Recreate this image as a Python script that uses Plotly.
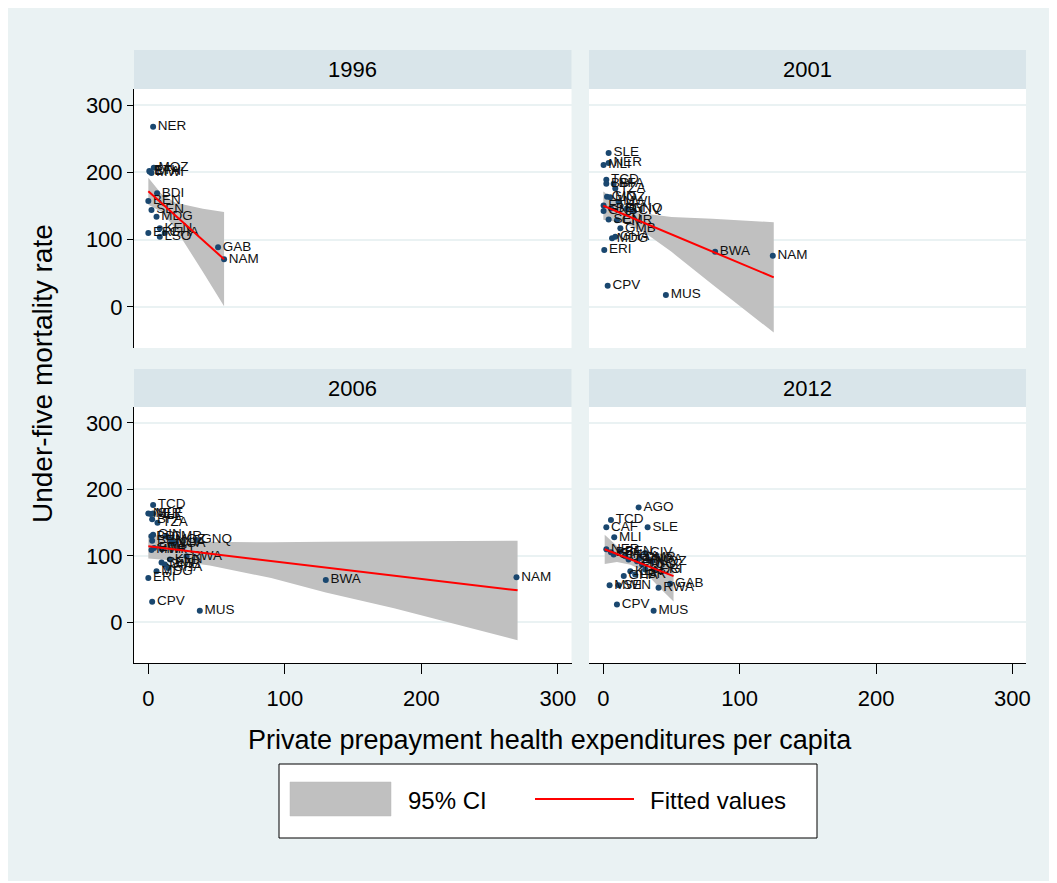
import plotly.graph_objects as go

# ---------------- data ----------------
years = ["1996", "2001", "2006", "2012"]

c96 = ["NER", "MOZ", "BFA", "MWI", "ETH", "BDI", "BEN", "SEN", "MDG", "ERI", "KEN", "GHA", "LSO", "GAB", "NAM"]
x96 = [3.5, 4.0, 1.1, 2.3, 0.7, 6.4, 0.0, 2.3, 6.0, 0.0, 8.4, 12.0, 8.4, 51.1, 55.5]
y96 = [268, 207, 201, 199, 202, 169, 157.5, 144, 134, 110, 117, 110, 104.5, 88.7, 71]

c01 = ["SLE", "NER", "MLI", "TCD", "BDI", "BFA", "TZA", "GIN", "MOZ", "MWI", "ETH", "BEN", "GNB", "GNQ",
       "CIV", "SEN", "CMR", "GMB", "MDG", "GHA", "ERI", "CPV", "MUS", "BWA", "NAM"]
x01 = [3.9, 3.9, 0.2, 2.2, 2.2, 7.6, 8.8, 2.7, 5.1, 11.2, 0.2, 5.6, 0.2, 17.4,
       22.2, 3.9, 10.0, 12.5, 6.4, 8.8, 0.7, 3.2, 45.9, 82.0, 124.3]
y01 = [229, 214, 211, 189, 183, 183, 176, 164, 163, 156, 151, 146.5, 142.6, 146.5,
       143, 130, 129, 117, 102, 104.5, 84.7, 31.7, 17.8, 82, 76]

c06 = ["TCD", "NER", "MLI", "SLE", "BFA", "TZA", "GIN", "BDI", "BEN", "CMR", "MOZ", "NGA", "CIV", "GNQ",
       "MWI", "ETH", "MRT", "RWA", "SEN", "GMB", "KEN", "GHA", "MDG", "ERI", "CPV", "MUS", "BWA", "NAM"]
x06 = [3.5, 0.0, 1.8, 3.5, 2.8, 6.7, 3.5, 2.3, 2.8, 13.3, 16.5, 17.0, 18.9, 35.3,
       2.3, 4.2, 9.9, 28.0, 9.7, 12.1, 15.8, 14.5, 6.0, 0.0, 2.8, 37.7, 130.0, 269.7]
y06 = [176.6, 164, 163, 164, 155, 150, 132, 129.5, 123, 129.5, 125, 119, 120, 124,
       109, 112, 110, 99.5, 90, 87, 94.5, 82, 77, 67, 31, 17.5, 63.7, 68]

c12 = ["AGO", "TCD", "CAF", "SLE", "MLI", "NER", "BFA", "GIN", "BEN", "CIV", "CMR", "NGA", "TZA", "BDI",
       "TGO", "MOZ", "UGA", "KEN", "COG", "ERI", "GHA", "LBR", "MWI", "SEN", "RWA", "GAB", "CPV", "MUS"]
x12 = [25.9, 5.6, 2.2, 32.5, 8.0, 2.2, 5.6, 7.6, 12.5, 30.8, 27.1, 33.2, 18.5, 24.7,
       28.4, 35.7, 16.0, 19.8, 30.8, 38.0, 15.0, 23.4, 4.6, 11.2, 40.5, 49.0, 10.0, 36.9]
y12 = [173, 154, 143, 143, 128, 110, 105.5, 102, 107, 104.5, 97, 94.5, 94.5, 92,
       87, 92, 99.5, 77, 79.5, 79.5, 70, 72, 56, 56, 52, 58, 27, 17.5]

# fitted values and 95% CI bounds
fx96 = [0, 10, 20, 30, 40, 55.5]
fit96 = [172, 153.8, 135.6, 117.4, 99.2, 71]
lo96 = [152, 141, 116, 85, 52, 1]
hi96 = [192, 167, 155, 150, 146, 141]

fx01 = [0, 15, 30, 50, 80, 100, 125]
fit01 = [150.5, 137.7, 124.9, 107.9, 82.3, 65.3, 44]
lo01 = [129.5, 124.7, 110.9, 81.9, 33.3, 1.3, -38]
hi01 = [171.5, 150.7, 138.9, 133.9, 131.3, 129.3, 126]

fx06 = [0, 20, 45, 90, 130, 180, 230, 270.5]
fit06 = [114.5, 109.6, 103.5, 92.5, 82.7, 70.5, 58.2, 48.3]
lo06 = [96, 92.6, 85.6, 66.8, 45, 21.3, -5.2, -26.7]
hi06 = [133, 126.6, 121.4, 120.5, 121.5, 122, 122.5, 123]

fx12 = [1, 10, 20, 30, 40, 51.5]
fit12 = [110, 102.8, 94.8, 86.8, 78.8, 69.6]
lo12 = [88, 90.8, 86.8, 76.8, 54.8, 31.6]
hi12 = [132, 114.8, 102.8, 96.8, 102.8, 107.6]

xticks = [0, 100, 200, 300]
yticks = [0, 100, 200, 300]

# ---------------- layout geometry (page pixels; page body margin is 8px) ----------------
W, H = 1041, 873
L, R, T, B = 126, 23, 42, 218
PW, PH = W - L - R, H - T - B


def px(p):  # page x pixel -> paper
    return (p - 134) / PW


def py(p):  # page y pixel -> paper
    return (663 - p) / PH


FONT = "Liberation Sans, Arial, sans-serif"
NAVY = "#1a476f"
BG = "#eaf2f3"
STRIP = "#d9e5ea"
GRID = "#eaf2f3"

panels = [
    (c96, x96, y96, fx96, fit96, lo96, hi96, "x", "y"),
    (c01, x01, y01, fx01, fit01, lo01, hi01, "x2", "y2"),
    (c06, x06, y06, fx06, fit06, lo06, hi06, "x3", "y3"),
    (c12, x12, y12, fx12, fit12, lo12, hi12, "x4", "y4"),
]

fig = go.Figure()
for (cc, xx, yy, fx, fit, lo, hi, xa, ya) in panels:
    fig.add_trace(go.Scatter(
        x=fx + fx[::-1], y=hi + lo[::-1], fill="toself", fillcolor="#c0c0c0",
        line=dict(width=0), mode="lines", xaxis=xa, yaxis=ya, hoverinfo="skip"))
    fig.add_trace(go.Scatter(
        x=xx, y=yy, mode="markers+text", text=cc, textposition="middle right",
        textfont=dict(family=FONT, size=13.5, color="#111111"),
        marker=dict(color=NAVY, size=6), xaxis=xa, yaxis=ya))
    fig.add_trace(go.Scatter(
        x=fx, y=fit, mode="lines", line=dict(color="red", width=2),
        xaxis=xa, yaxis=ya))

xrng = [-10.5, 310]
yrng = [-61, 324]
dom_left = [px(134), px(571.5)]
dom_right = [px(589), px(1026)]
dom_top = [py(348), py(89)]
dom_bot = [py(663), py(407)]

tickfont = dict(family=FONT, size=22, color="black")


def xax(domain, anchor, bottom):
    d = dict(domain=domain, anchor=anchor, range=xrng, showgrid=False, zeroline=False,
             fixedrange=True)
    if bottom:
        d.update(showline=True, linecolor="black", linewidth=1, ticks="outside", ticklen=10,
                 tickcolor="black", tickvals=xticks, tickfont=tickfont, ticklabelstandoff=6)
    else:
        d.update(showline=False, showticklabels=False, ticks="")
    return d


def yax(domain, anchor, left):
    d = dict(domain=domain, anchor=anchor, range=yrng, showgrid=True, gridcolor=GRID,
             gridwidth=2, zeroline=False, tickvals=yticks, fixedrange=True)
    if left:
        d.update(showline=True, linecolor="black", linewidth=1, ticks="outside", ticklen=6,
                 tickcolor="black", tickfont=tickfont)
    else:
        d.update(showline=False, showticklabels=False, ticks="")
    return d


shapes = []
annotations = []
# strips
strips = [(134, 571.5, 50, 89), (589, 1026, 50, 89), (134, 571.5, 369, 407), (589, 1026, 369, 407)]
for (x0, x1, y0, y1), yr in zip(strips, years):
    shapes.append(dict(type="rect", xref="paper", yref="paper", x0=px(x0), x1=px(x1),
                       y0=py(y1), y1=py(y0), fillcolor=STRIP, line=dict(width=0), layer="below"))
    annotations.append(dict(text=yr, xref="paper", yref="paper", x=px((x0 + x1) / 2),
                            y=py((y0 + y1) / 2), showarrow=False, xanchor="center", yanchor="middle",
                            font=dict(family=FONT, size=22, color="black")))

# legend box (drawn)
shapes.append(dict(type="rect", xref="paper", yref="paper", x0=px(279), x1=px(817),
                   y0=py(838), y1=py(764), fillcolor="white", line=dict(color="black", width=1)))
shapes.append(dict(type="rect", xref="paper", yref="paper", x0=px(290), x1=px(391),
                   y0=py(816), y1=py(782), fillcolor="#c0c0c0", line=dict(color="#b8b8b8", width=0.5)))
shapes.append(dict(type="line", xref="paper", yref="paper", x0=px(535), x1=px(634),
                   y0=py(799), y1=py(799), line=dict(color="red", width=2)))
annotations.append(dict(text="95% CI", xref="paper", yref="paper", x=px(406), y=py(800),
                        xanchor="left", yanchor="middle", showarrow=False,
                        font=dict(family=FONT, size=24, color="black")))
annotations.append(dict(text="Fitted values", xref="paper", yref="paper", x=px(648), y=py(800),
                        xanchor="left", yanchor="middle", showarrow=False,
                        font=dict(family=FONT, size=24, color="black")))
# axis titles
annotations.append(dict(text="Private prepayment health expenditures per capita", xref="paper",
                        yref="paper", x=px(549.5), y=py(740), xanchor="center", yanchor="middle",
                        showarrow=False, font=dict(family=FONT, size=27, color="black")))
annotations.append(dict(text="Under-five mortality rate", xref="paper", yref="paper", x=px(42),
                        y=py(374), xanchor="center", yanchor="middle", textangle=-90,
                        showarrow=False, font=dict(family=FONT, size=28, color="black")))

fig.update_layout(
    width=W, height=H, autosize=False,
    margin=dict(l=L, r=R, t=T, b=B, pad=0),
    paper_bgcolor=BG, plot_bgcolor="white", showlegend=False,
    font=dict(family=FONT, color="black"),
    xaxis=xax(dom_left, "y", False),
    yaxis=yax(dom_top, "x", True),
    xaxis2=xax(dom_right, "y2", False),
    yaxis2=yax(dom_top, "x2", False),
    xaxis3=xax(dom_left, "y3", True),
    yaxis3=yax(dom_bot, "x3", True),
    xaxis4=xax(dom_right, "y4", True),
    yaxis4=yax(dom_bot, "x4", False),
    shapes=shapes, annotations=annotations,
)

fig.write_html("out.html")
